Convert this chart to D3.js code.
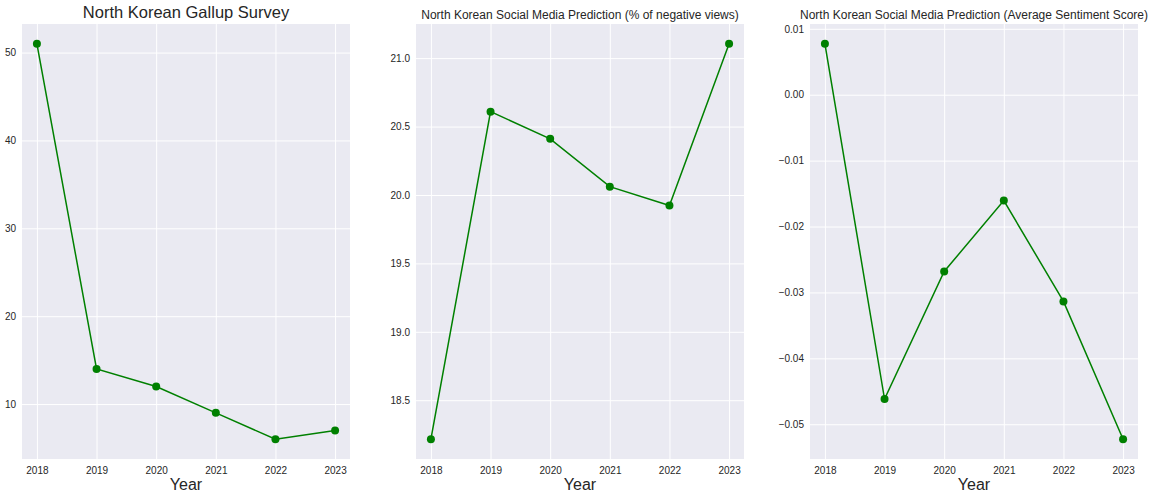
<!DOCTYPE html>
<meta charset="utf-8">
<script src="https://d3js.org/d3.v7.min.js"></script>
<style>
body { margin: 0; background: #fff; }
text { font-family: "Liberation Sans", Arial, sans-serif; fill: #262626; }
.grid line { stroke: #fff; stroke-width: 1; }
.grid path { stroke-width: 0; }
.tick text { font-size: 10px; }
</style>
<div id="chart"></div>
<script>
// data
var years = [2018, 2019, 2020, 2021, 2022, 2023];
var gallup = [51, 14, 12, 9, 6, 7];
var negativeViews = [18.215, 20.609, 20.41, 20.061, 19.923, 21.105];
var sentiment = [0.00773, -0.04617, -0.02682, -0.01606, -0.03136, -0.05227];

var gallupTicks = [10, 20, 30, 40, 50];
var negativeTicks = [18.5, 19.0, 19.5, 20.0, 20.5, 21.0];
var sentimentTicks = [0.01, 0.00, -0.01, -0.02, -0.03, -0.04, -0.05];

var svg = d3.select("#chart").append("svg")
    .attr("width", 1154)
    .attr("height", 498);

function panel(opts) {
    var left = opts.left, right = opts.right, top = 24, bottom = 459;
    var width = right - left, height = bottom - top;

    // matplotlib style 5% padding
    var xPad = (d3.max(years) - d3.min(years)) * 0.05;
    var x = d3.scaleLinear()
        .domain([d3.min(years) - xPad, d3.max(years) + xPad])
        .range([0, width]);
    var ext = d3.extent(opts.values);
    var yPad = (ext[1] - ext[0]) * 0.05;
    var y = d3.scaleLinear()
        .domain([ext[0] - yPad, ext[1] + yPad])
        .range([height, 0]);

    var g = svg.append("g").attr("transform", "translate(" + left + "," + top + ")");

    g.append("rect")
        .attr("width", width)
        .attr("height", height)
        .attr("fill", "#EAEAF2");

    // vertical grid + x labels
    g.append("g")
        .attr("class", "grid")
        .attr("transform", "translate(0," + height + ")")
        .call(d3.axisBottom(x).tickValues(years).tickSize(-height).tickPadding(6).tickFormat(d3.format("d")))
        .call(g => g.selectAll(".tick text").attr("dy", "0.9em"));

    // horizontal grid + y labels
    g.append("g")
        .attr("class", "grid")
        .call(d3.axisLeft(y).tickValues(opts.ticks).tickSize(-width).tickPadding(6)
            .tickFormat(d => opts.fmt(d).replace("-", "\u2212")));

    g.selectAll(".grid text").attr("fill", "#262626").style("font-family", "Liberation Sans, Arial, sans-serif");

    var line = d3.line()
        .x((d, i) => x(years[i]))
        .y(d => y(d));

    g.append("path")
        .datum(opts.values)
        .attr("fill", "none")
        .attr("stroke", "green")
        .attr("stroke-width", 1.5)
        .attr("d", line);

    g.selectAll(".dot")
        .data(opts.values)
        .enter()
        .append("circle")
        .attr("cx", (d, i) => x(years[i]))
        .attr("cy", d => y(d))
        .attr("r", 4)
        .attr("fill", "green");

    g.append("text")
        .attr("x", width / 2)
        .attr("y", opts.titleY)
        .attr("text-anchor", "middle")
        .style("font-size", opts.titleSize + "px")
        .text(opts.title);

    g.append("text")
        .attr("x", width / 2)
        .attr("y", height + 31)
        .attr("text-anchor", "middle")
        .style("font-size", "16px")
        .text("Year");
}

panel({
    left: 22, right: 350, values: gallup, ticks: gallupTicks,
    fmt: d3.format("d"), title: "North Korean Gallup Survey", titleSize: 16.5, titleY: -6
});
panel({
    left: 416, right: 744, values: negativeViews, ticks: negativeTicks,
    fmt: d3.format(".1f"), title: "North Korean Social Media Prediction (% of negative views)", titleSize: 12, titleY: -5
});
panel({
    left: 810, right: 1138, values: sentiment, ticks: sentimentTicks,
    fmt: d3.format(".2f"), title: "North Korean Social Media Prediction (Average Sentiment Score)", titleSize: 12, titleY: -5
});
</script>
